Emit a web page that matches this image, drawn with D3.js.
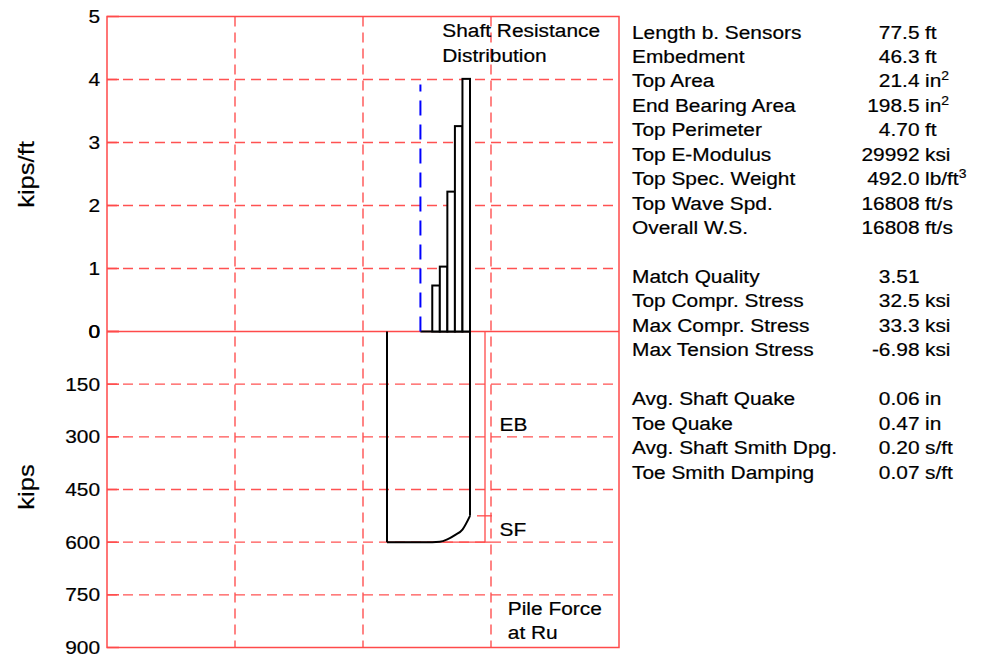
<!DOCTYPE html>
<html>
<head>
<meta charset="utf-8">
<script src="https://cdn.jsdelivr.net/npm/d3@7"></script>
<style>
  html, body { margin: 0; padding: 0; background: #fff; }
  svg { display: block; }
</style>
</head>
<body>
<div id="chart"></div>
<script>
// ---- Pile model data ----
// Segment boundaries along the pile (ft below sensors)
const segmentDepths = [0, 7.05, 14.09, 21.14, 28.18, 35.23, 42.27, 49.32, 56.36, 63.41, 70.45, 77.5];
// Unit shaft resistance per segment (kips/ft)
const shaftResistance = [0, 0, 0, 0, 0, 0, 0.73, 1.03, 2.22, 3.26, 4.01];
// Pile force at Ru at each segment boundary (kips)
const pileForce = [600, 600, 600, 600, 600, 600, 600, 599, 592, 580, 564, 525];
const pileLength = 77.5;       // ft
const groundDepth = 31.2;      // ft below sensors (length - embedment)
const groundMarkerTop = 3.92;  // kips/ft
const ultimateCapacity = 600;  // kips
const endBearing = 525;        // kips

// Axis ticks
const resistanceTicks = [0, 1, 2, 3, 4, 5];
const forceTicks = [0, 150, 300, 450, 600, 750, 900];

// Summary table (blank label = spacer row)
const infoLabels = [
  "Length b. Sensors", "Embedment", "Top Area", "End Bearing Area", "Top Perimeter",
  "Top E-Modulus", "Top Spec. Weight", "Top Wave Spd.", "Overall W.S.", "",
  "Match Quality", "Top Compr. Stress", "Max Compr. Stress", "Max Tension Stress", "",
  "Avg. Shaft Quake", "Toe Quake", "Avg. Shaft Smith Dpg.", "Toe Smith Damping"
];
const infoValues = [
  "77.5", "46.3", "21.4", "198.5", "4.70", "29992", "492.0", "16808", "16808", "",
  "3.51", "32.5", "33.3", "-6.98", "",
  "0.06", "0.47", "0.20", "0.07"
];
const infoUnits = [
  "ft", "ft", "in", "in", "ft", "ksi", "lb/ft", "ft/s", "ft/s", "",
  "", "ksi", "ksi", "ksi", "",
  "in", "in", "s/ft", "s/ft"
];
const infoUnitSup = [
  "", "", "2", "2", "", "", "3", "", "", "",
  "", "", "", "", "",
  "", "", "", ""
];

// ---- Layout ----
const W = 990, H = 657;
const plotLeft = 107, plotRight = 619;
const plotTop = 16.5, plotZero = 331.5, plotBottom = 647.5;
const SX = 1.16;              // horizontal glyph stretch of the text
const FONT = "'Liberation Sans', Arial, Helvetica, sans-serif";
const RED = "#ff4a4a";
const GRID = "#ff5252";

const svg = d3.select("#chart").append("svg")
  .attr("width", W).attr("height", H)
  .attr("viewBox", `0 0 ${W} ${H}`);
svg.append("rect").attr("width", W).attr("height", H).attr("fill", "#fff");

// Scales
const x = d3.scaleLinear().domain([0, pileLength]).range([387, 470]);
const yRes = d3.scaleLinear().domain([0, 5]).range([plotZero, plotTop]);
const yForce = d3.scaleLinear().domain([0, 900]).range([plotZero, plotBottom]);

function addText(g, tx, ty, str, anchor, size) {
  return g.append("text")
    .attr("transform", `translate(${tx},${ty}) scale(${SX},1)`)
    .attr("text-anchor", anchor || "start")
    .attr("font-family", FONT)
    .attr("font-size", size || 18)
    .attr("fill", "#000")
    .attr("stroke", "#000").attr("stroke-width", 0.2)
    .text(str);
}

// ---- Grid ----
const grid = svg.append("g")
  .attr("stroke", GRID).attr("stroke-width", 1.4)
  .attr("stroke-dasharray", "10,6").attr("fill", "none");

resistanceTicks.filter(t => t > 0 && t < 5).forEach(t => {
  grid.append("line").attr("x1", plotLeft).attr("x2", plotRight)
    .attr("y1", yRes(t)).attr("y2", yRes(t));
});
forceTicks.filter(t => t > 0 && t < 900).forEach(t => {
  grid.append("line").attr("x1", plotLeft).attr("x2", plotRight)
    .attr("y1", yForce(t)).attr("y2", yForce(t));
});
[1, 2, 3].forEach(i => {
  const gx = plotLeft + i * (plotRight - plotLeft) / 4;
  grid.append("line").attr("x1", gx).attr("x2", gx)
    .attr("y1", plotTop).attr("y2", plotBottom);
});

// Frame and zero line
svg.append("rect")
  .attr("x", plotLeft).attr("y", plotTop)
  .attr("width", plotRight - plotLeft).attr("height", plotBottom - plotTop)
  .attr("fill", "none").attr("stroke", RED).attr("stroke-width", 1.5);
svg.append("line")
  .attr("x1", plotLeft).attr("x2", plotRight)
  .attr("y1", plotZero).attr("y2", plotZero)
  .attr("stroke", RED).attr("stroke-width", 1.5);

// Small tick stubs on the left axis
const stubs = svg.append("g").attr("stroke", RED).attr("stroke-width", 1.5);
resistanceTicks.forEach(t => stubs.append("line")
  .attr("x1", plotLeft).attr("x2", plotLeft + 12).attr("y1", yRes(t)).attr("y2", yRes(t)));
forceTicks.forEach(t => stubs.append("line")
  .attr("x1", plotLeft).attr("x2", plotLeft + 12).attr("y1", yForce(t)).attr("y2", yForce(t)));

// ---- Axis labels ----
const axisText = svg.append("g");
resistanceTicks.forEach(t => addText(axisText, 100, yRes(t) + 6.5, String(t), "end"));
forceTicks.forEach(t => addText(axisText, 100, yForce(t) + 6.5, String(t), "end"));

function rotatedTitle(cx, cy, str) {
  svg.append("text")
    .attr("transform", `translate(${cx},${cy}) rotate(-90) scale(${SX},1)`)
    .attr("text-anchor", "middle")
    .attr("font-family", FONT).attr("font-size", 22)
    .attr("stroke", "#000").attr("stroke-width", 0.2)
    .text(str);
}
rotatedTitle(34, 174.5, "kips/ft");
rotatedTitle(34, 487, "kips");

// ---- Shaft resistance distribution ----
const bars = svg.append("g");
bars.append("line")
  .attr("x1", x(groundDepth)).attr("x2", x(pileLength))
  .attr("y1", yRes(0)).attr("y2", yRes(0))
  .attr("stroke", "#000").attr("stroke-width", 2);
bars.selectAll("rect.seg")
  .data(shaftResistance.map((v, i) => ({ v, x0: segmentDepths[i], x1: segmentDepths[i + 1] }))
    .filter(d => d.v > 0))
  .join("rect")
  .attr("class", "seg")
  .attr("x", d => x(d.x0)).attr("width", d => x(d.x1) - x(d.x0))
  .attr("y", d => yRes(d.v)).attr("height", d => yRes(0) - yRes(d.v))
  .attr("fill", "#fff").attr("stroke", "#000").attr("stroke-width", 2);

// Ground surface marker
svg.append("line")
  .attr("x1", x(groundDepth)).attr("x2", x(groundDepth))
  .attr("y1", yRes(0)).attr("y2", yRes(groundMarkerTop))
  .attr("stroke", "#0000ff").attr("stroke-width", 2)
  .attr("stroke-dasharray", "15,9");

// ---- Pile force at Ru ----
const force = svg.append("g").attr("fill", "none");
// Capacity / end bearing bracket
const bx = x(pileLength) + 15;
force.append("line")
  .attr("x1", x(0)).attr("x2", bx + 6)
  .attr("y1", yForce(ultimateCapacity)).attr("y2", yForce(ultimateCapacity))
  .attr("stroke", RED).attr("stroke-width", 1.3);
force.append("line")
  .attr("x1", bx).attr("x2", bx)
  .attr("y1", yForce(0)).attr("y2", yForce(ultimateCapacity))
  .attr("stroke", RED).attr("stroke-width", 1.3);
force.append("line")
  .attr("x1", bx - 8).attr("x2", bx + 7)
  .attr("y1", yForce(endBearing)).attr("y2", yForce(endBearing))
  .attr("stroke", RED).attr("stroke-width", 1.3);

const forcePts = segmentDepths.map((d, i) => [d, pileForce[i]]);
force.append("path")
  .attr("d", d3.line().x(d => x(d[0])).y(d => yForce(d[1]))([[0, 0], forcePts[0]]))
  .attr("stroke", "#000").attr("stroke-width", 2);
force.append("path")
  .attr("d", d3.line().x(d => x(d[0])).y(d => yForce(d[1])).curve(d3.curveMonotoneX)(forcePts))
  .attr("stroke", "#000").attr("stroke-width", 2);
force.append("path")
  .attr("d", d3.line().x(d => x(d[0])).y(d => yForce(d[1]))([forcePts[forcePts.length - 1], [pileLength, 0]]))
  .attr("stroke", "#000").attr("stroke-width", 2);

// ---- In-plot annotations ----
const notes = svg.append("g");
addText(notes, 442.3, 37, "Shaft Resistance");
addText(notes, 442.3, 61.5, "Distribution");
addText(notes, 499.5, 430.7, "EB");
addText(notes, 499.5, 536, "SF");
addText(notes, 507.8, 615, "Pile Force");
addText(notes, 507.8, 639.3, "at Ru");

// ---- Summary table ----
const table = svg.append("g");
const rowY = i => 38.5 + i * 24.45;
infoLabels.forEach((lab, i) => {
  if (!lab) return;
  addText(table, 632, rowY(i), lab);
  addText(table, 919.5, rowY(i), infoValues[i], "end");
  if (infoUnits[i]) {
    const t = addText(table, 925, rowY(i), infoUnits[i]);
    if (infoUnitSup[i]) {
      t.append("tspan").attr("font-size", 12).attr("dy", -7).text(infoUnitSup[i]);
    }
  }
});
</script>
</body>
</html>
